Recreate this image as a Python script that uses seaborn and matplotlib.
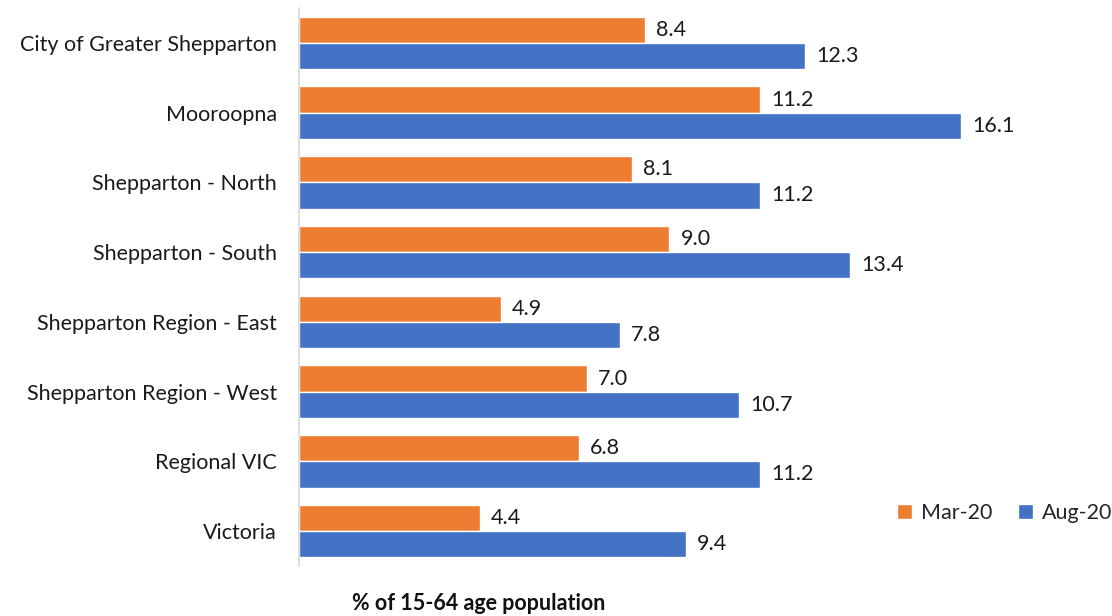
import pandas as pd
import matplotlib.pyplot as plt
import seaborn as sns

# data
areas = ["City of Greater Shepparton", "Mooroopna", "Shepparton - North",
         "Shepparton - South", "Shepparton Region - East",
         "Shepparton Region - West", "Regional VIC", "Victoria"]
mar_20 = [8.4, 11.2, 8.1, 9.0, 4.9, 7.0, 6.8, 4.4]
aug_20 = [12.3, 16.1, 11.2, 13.4, 7.8, 10.7, 11.2, 9.4]
periods = ["Mar-20", "Aug-20"]

df = pd.DataFrame({
    "area": areas * 2,
    "period": [periods[0]] * len(areas) + [periods[1]] * len(areas),
    "value": mar_20 + aug_20,
})

sns.set_style("white")
plt.rcParams["font.family"] = ["Lato", "DejaVu Sans"]
fs = 15.5

fig = plt.figure(figsize=(11.12, 6.16), dpi=100)
ax = fig.add_axes([0.2689, 0.0812, 0.666, 0.9058])

sns.barplot(data=df, y="area", x="value", hue="period", orient="h",
            palette=["#ED7D31", "#4472C4"], width=0.75, saturation=1,
            ax=ax)

for cont in ax.containers:
    ax.bar_label(cont, fmt="%.1f", padding=8, fontsize=fs, color="#1a1a1a")

ax.set_xlim(0, 18)
ax.set_xlabel("")
ax.set_ylabel("")
ax.set_xticks([])
ax.tick_params(axis="y", length=0, pad=16, labelsize=fs, labelcolor="#1a1a1a")
for side in ["top", "right", "bottom"]:
    ax.spines[side].set_visible(False)
ax.spines["left"].set_color("#d9d9d9")
ax.spines["left"].set_linewidth(1.2)

ax.legend(loc="lower right", bbox_to_anchor=(1.124, 0.043), ncol=2,
          frameon=False, fontsize=fs, handlelength=0.7, handleheight=0.7,
          handletextpad=0.4, columnspacing=1.2)

fig.text(479 / 1112, 12 / 616, "% of 15-64 age population", ha="center",
         va="center", fontsize=fs, fontweight="bold", color="#111111")

fig.savefig("out.png", dpi=100)
